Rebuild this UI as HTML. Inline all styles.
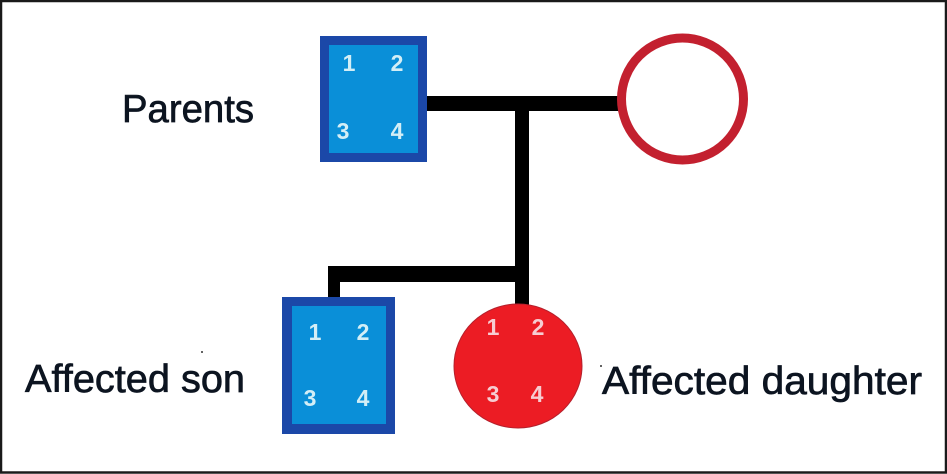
<!DOCTYPE html>
<html><head><meta charset="utf-8"><style>
html,body{margin:0;padding:0;background:#fff;width:947px;height:474px;overflow:hidden}
svg{display:block}
.l{font-family:"Liberation Sans",sans-serif;font-size:39px;fill:#0c1420;stroke:#0c1420;stroke-width:.7px}
.b{font-family:"Liberation Sans",sans-serif;font-size:23px;font-weight:bold;fill:#d3eef6;text-anchor:middle}
.r{font-family:"Liberation Sans",sans-serif;font-size:23px;font-weight:bold;fill:#f6cdd2;text-anchor:middle}
</style></head><body>
<svg width="947" height="474" viewBox="0 0 947 474" xmlns="http://www.w3.org/2000/svg">
<rect width="947" height="474" fill="#fff"/>
<rect x="1" y="1" width="945" height="471.5" fill="none" stroke="#1a1a1a" stroke-width="2.5"/>
<!-- connectors -->
<rect x="425" y="96" width="197" height="15" fill="#000"/>
<rect x="515" y="96" width="14" height="210" fill="#000"/>
<rect x="328" y="266" width="190" height="16" fill="#000"/>
<rect x="328" y="266" width="12" height="32" fill="#000"/>
<!-- parents -->
<rect x="320" y="36" width="107" height="126" fill="#1b48a8"/>
<rect x="329" y="45" width="89" height="108" fill="#0a8fd8"/>
<circle cx="682.5" cy="99" r="61" fill="#fff" stroke="#c3202f" stroke-width="9"/>
<text class="b" x="349" y="71">1</text><text class="b" x="397" y="71">2</text>
<text class="b" x="343" y="139">3</text><text class="b" x="397" y="139">4</text>
<!-- children -->
<rect x="282" y="297" width="113" height="137" fill="#1b48a8"/>
<rect x="292" y="306" width="94" height="118" fill="#0a8fd8"/>
<text class="b" x="315" y="340">1</text><text class="b" x="363" y="340">2</text>
<text class="b" x="310" y="406">3</text><text class="b" x="363" y="406">4</text>
<ellipse cx="518" cy="366" rx="64" ry="62" fill="#ec1c24" stroke="#b5202c" stroke-width="1"/>
<text class="r" x="493" y="335">1</text><text class="r" x="538" y="335">2</text>
<text class="r" x="493" y="402">3</text><text class="r" x="537" y="402">4</text>
<!-- labels -->
<text class="l" x="122" y="122" textLength="132" lengthAdjust="spacingAndGlyphs">Parents</text>
<text class="l" x="25" y="392" textLength="220" lengthAdjust="spacingAndGlyphs">Affected son</text>
<text class="l" x="602" y="394" textLength="320" lengthAdjust="spacingAndGlyphs">Affected daughter</text>
<circle cx="202" cy="352" r="1" fill="#333"/>
<circle cx="601" cy="366" r="1" fill="#333"/>
</svg>
</body></html>
